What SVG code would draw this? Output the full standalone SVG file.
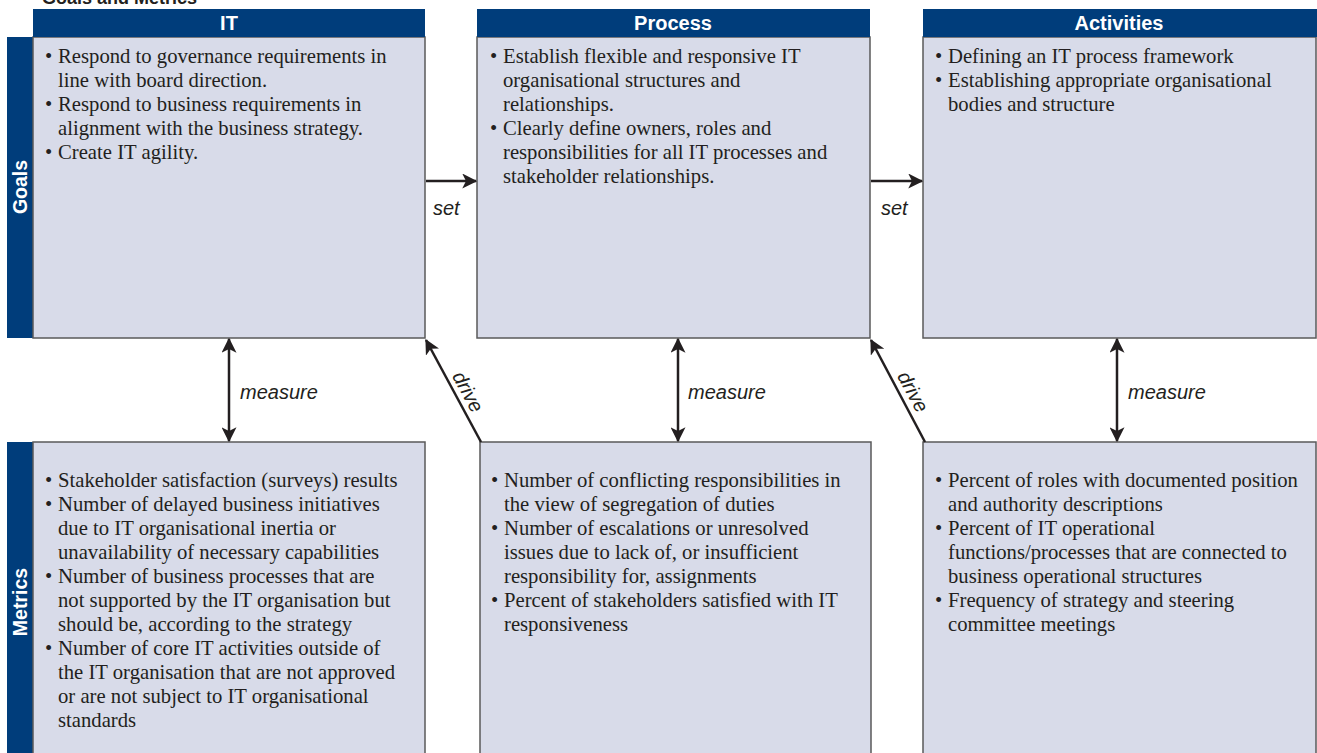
<svg xmlns="http://www.w3.org/2000/svg" width="1317" height="753" viewBox="0 0 1317 753">
<defs>
<style>
.box{fill:#d8dbe9;stroke:#5a5a5a;stroke-width:1.5}
.hdr{fill:#003d7b}
.hdrt{font-family:"Liberation Sans",Arial,sans-serif;font-weight:bold;font-size:20px;fill:#fff;text-anchor:middle}
.side{font-family:"Liberation Sans",Arial,sans-serif;font-weight:bold;font-size:19.5px;fill:#fff;text-anchor:middle}
.body{font-family:"Liberation Serif","Times New Roman",serif;font-size:20.7px;fill:#231f20}
.lbl{font-family:"Liberation Sans",Arial,sans-serif;font-style:italic;font-size:20px;fill:#231f20}
.conn{stroke:#231f20;stroke-width:2.5;fill:none}
</style>
<marker id="ah" viewBox="0 0 12 12" refX="11" refY="6" markerWidth="6" markerHeight="6" orient="auto-start-reverse" markerUnits="strokeWidth">
<path d="M0,0 L12,6 L0,12 L3,6 Z" fill="#231f20"/>
</marker>
</defs>
<rect width="1317" height="753" fill="#fff"/>
<text x="42" y="4" style="font-family:'Liberation Sans',Arial,sans-serif;font-weight:bold;font-size:18px;fill:#231f20">Goals and Metrics</text>

<g id="row-goals">
<rect class="hdr" x="7" y="37" width="27" height="301"/>
<text class="side" transform="translate(27,187) rotate(-90)">Goals</text>
</g>
<g id="row-metrics">
<rect class="hdr" x="7" y="442" width="27" height="311"/>
<text class="side" transform="translate(27,602) rotate(-90)">Metrics</text>
</g>

<g id="it-goals">
<rect class="box" x="33" y="37" width="392" height="301"/>
<rect class="hdr" x="33" y="9" width="392" height="28"/>
<text class="hdrt" x="229" y="30">IT</text>
<text class="body">
<tspan x="45" y="63">•</tspan><tspan x="58" y="63">Respond to governance requirements in</tspan>
<tspan x="58" y="87">line with board direction.</tspan>
<tspan x="45" y="111">•</tspan><tspan x="58" y="111">Respond to business requirements in</tspan>
<tspan x="58" y="135">alignment with the business strategy.</tspan>
<tspan x="45" y="159">•</tspan><tspan x="58" y="159">Create IT agility.</tspan>
</text>
</g>

<g id="process-goals">
<rect class="box" x="477" y="37" width="393" height="301"/>
<rect class="hdr" x="477" y="9" width="393" height="28"/>
<text class="hdrt" x="673" y="30">Process</text>
<text class="body">
<tspan x="490" y="63">•</tspan><tspan x="503" y="63">Establish flexible and responsive IT</tspan>
<tspan x="503" y="87">organisational structures and</tspan>
<tspan x="503" y="111">relationships.</tspan>
<tspan x="490" y="135">•</tspan><tspan x="503" y="135">Clearly define owners, roles and</tspan>
<tspan x="503" y="159">responsibilities for all IT processes and</tspan>
<tspan x="503" y="183">stakeholder relationships.</tspan>
</text>
</g>

<g id="activities-goals">
<rect class="box" x="923" y="37" width="393" height="301"/>
<rect class="hdr" x="923" y="9" width="394" height="28"/>
<text class="hdrt" x="1119" y="30">Activities</text>
<text class="body">
<tspan x="935" y="63">•</tspan><tspan x="948" y="63">Defining an IT process framework</tspan>
<tspan x="935" y="87">•</tspan><tspan x="948" y="87">Establishing appropriate organisational</tspan>
<tspan x="948" y="111">bodies and structure</tspan>
</text>
</g>

<g id="it-metrics">
<rect class="box" x="33" y="442" width="392" height="320"/>
<text class="body">
<tspan x="45" y="487">•</tspan><tspan x="58" y="487">Stakeholder satisfaction (surveys) results</tspan>
<tspan x="45" y="511">•</tspan><tspan x="58" y="511">Number of delayed business initiatives</tspan>
<tspan x="58" y="535">due to IT organisational inertia or</tspan>
<tspan x="58" y="559">unavailability of necessary capabilities</tspan>
<tspan x="45" y="583">•</tspan><tspan x="58" y="583">Number of business processes that are</tspan>
<tspan x="58" y="607">not supported by the IT organisation but</tspan>
<tspan x="58" y="631">should be, according to the strategy</tspan>
<tspan x="45" y="655">•</tspan><tspan x="58" y="655">Number of core IT activities outside of</tspan>
<tspan x="58" y="679">the IT organisation that are not approved</tspan>
<tspan x="58" y="703">or are not subject to IT organisational</tspan>
<tspan x="58" y="727">standards</tspan>
</text>
</g>

<g id="process-metrics">
<rect class="box" x="480" y="442" width="391" height="320"/>
<text class="body">
<tspan x="491" y="487">•</tspan><tspan x="504" y="487">Number of conflicting responsibilities in</tspan>
<tspan x="504" y="511">the view of segregation of duties</tspan>
<tspan x="491" y="535">•</tspan><tspan x="504" y="535">Number of escalations or unresolved</tspan>
<tspan x="504" y="559">issues due to lack of, or insufficient</tspan>
<tspan x="504" y="583">responsibility for, assignments</tspan>
<tspan x="491" y="607">•</tspan><tspan x="504" y="607">Percent of stakeholders satisfied with IT</tspan>
<tspan x="504" y="631">responsiveness</tspan>
</text>
</g>

<g id="activities-metrics">
<rect class="box" x="923" y="442" width="393" height="320"/>
<text class="body">
<tspan x="935" y="487">•</tspan><tspan x="948" y="487">Percent of roles with documented position</tspan>
<tspan x="948" y="511">and authority descriptions</tspan>
<tspan x="935" y="535">•</tspan><tspan x="948" y="535">Percent of IT operational</tspan>
<tspan x="948" y="559">functions/processes that are connected to</tspan>
<tspan x="948" y="583">business operational structures</tspan>
<tspan x="935" y="607">•</tspan><tspan x="948" y="607">Frequency of strategy and steering</tspan>
<tspan x="948" y="631">committee meetings</tspan>
</text>
</g>

<g id="connectors">
<line class="conn" x1="426" y1="181" x2="476" y2="181" marker-end="url(#ah)"/>
<line class="conn" x1="871" y1="181" x2="922" y2="181" marker-end="url(#ah)"/>
<line class="conn" x1="229" y1="339" x2="229" y2="441" marker-start="url(#ah)" marker-end="url(#ah)"/>
<line class="conn" x1="678" y1="339" x2="678" y2="441" marker-start="url(#ah)" marker-end="url(#ah)"/>
<line class="conn" x1="1117" y1="339" x2="1117" y2="441" marker-start="url(#ah)" marker-end="url(#ah)"/>
<line class="conn" x1="481" y1="442" x2="426" y2="340" marker-end="url(#ah)"/>
<line class="conn" x1="925" y1="442" x2="871" y2="340" marker-end="url(#ah)"/>
<text class="lbl" x="433" y="215">set</text>
<text class="lbl" x="881" y="215">set</text>
<text class="lbl" x="240" y="399">measure</text>
<text class="lbl" x="688" y="399">measure</text>
<text class="lbl" x="1128" y="399">measure</text>
<text class="lbl" text-anchor="middle" transform="translate(462,395) rotate(61.7)">drive</text>
<text class="lbl" text-anchor="middle" transform="translate(907,395) rotate(61.7)">drive</text>
</g>
</svg>
